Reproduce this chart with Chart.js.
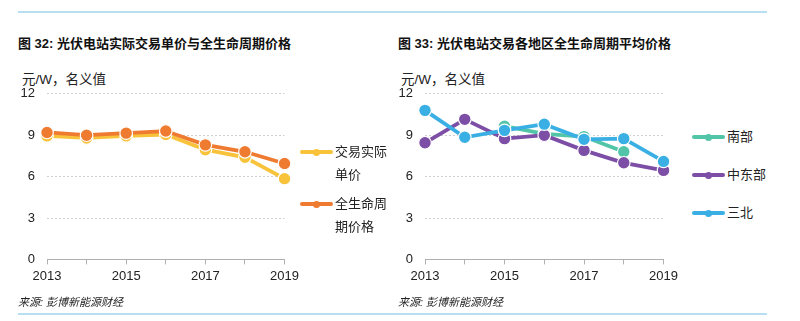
<!DOCTYPE html>
<html>
<head>
<meta charset="utf-8">
<script src="https://cdn.jsdelivr.net/npm/chart.js@4"></script>
<style>
  body { margin: 0; background: #fff; font-family: "Liberation Sans", "Noto Sans CJK SC", sans-serif; color: #222; }
  #page { position: relative; width: 800px; height: 321px; overflow: hidden; }
  .rule { position: absolute; left: 18px; width: 749px; height: 2px; background: #b6e0f2; }
  .title { position: absolute; top: 33px; font-size: 13px; font-weight: bold; font-family: "Liberation Sans", "Noto Sans CJK SC", sans-serif; color: #111; white-space: nowrap; }
  .unit { position: absolute; top: 68px; font-size: 13.5px; white-space: nowrap; }
  .source { position: absolute; top: 293px; font-size: 11px; font-style: italic; white-space: nowrap; color: #222; }
  .box { position: absolute; top: 74px; width: 293px; height: 220px; }
  .legend { position: absolute; font-size: 13px; line-height: 23px; }
  .item { position: relative; padding-left: 35px; margin-bottom: 6px; }
  .mark { position: absolute; left: 0; top: 10px; width: 33px; height: 4px; border-radius: 2px; }
  .mark i { position: absolute; left: 13px; top: -1.5px; width: 7px; height: 7px; border-radius: 50%; background: inherit; border: 0; }
</style>
</head>
<body>
<div id="page">
  <div class="rule" style="top:11px"></div>
  <div class="rule" style="top:313px"></div>

  <div class="title" style="left:18px">图 32: 光伏电站实际交易单价与全生命周期价格</div>
  <div class="title" style="left:398px">图 33: 光伏电站交易各地区全生命周期平均价格</div>
  <div class="unit" style="left:22px">元/W，名义值</div>
  <div class="unit" style="left:401px">元/W，名义值</div>

  <div class="box" style="left:10px"><canvas id="left"></canvas></div>
  <div class="box" style="left:388px; width:294px"><canvas id="right"></canvas></div>

  <div class="legend" id="legendLeft" style="left:300px; top:140px; width:90px"></div>
  <div class="legend" id="legendRight" style="left:692px; top:125px; width:90px"></div>

  <div class="source" style="left:18px">来源: 彭博新能源财经</div>
  <div class="source" style="left:398px">来源: 彭博新能源财经</div>
</div>

<script>
// data
const years = ["2013", "2014", "2015", "2016", "2017", "2018", "2019"];
const yTicks = [0, 3, 6, 9, 12];

const actualPrice = [8.95, 8.8, 8.95, 9.05, 7.95, 7.4, 5.85];
const lifecyclePrice = [9.2, 9.0, 9.15, 9.3, 8.3, 7.8, 6.95];

const southPrice = [null, null, 9.65, 9.1, 8.9, 7.8, null];
const centralEastPrice = [8.45, 10.15, 8.75, 9.0, 7.9, 7.0, 6.45];
const threeNorthPrice = [10.8, 8.85, 9.35, 9.8, 8.7, 8.75, 7.1];

const leftNames = ["交易实际单价", "全生命周期价格"];
const leftColors = ["#f8c23a", "#ee7b30"];
const rightNames = ["南部", "中东部", "三北"];
const rightColors = ["#52c5a8", "#7c4ea6", "#3aafe4"];

const FONT = "'Liberation Sans', 'Noto Sans CJK SC', sans-serif";

function makeSet(label, data, color, order) {
  return {
    label: label,
    data: data,
    borderColor: color,
    backgroundColor: color,
    borderWidth: 3.8,
    pointRadius: 6.3,
    pointHoverRadius: 6.3,
    pointBorderColor: "#fff",
    pointBorderWidth: 1.2,
    pointBackgroundColor: color,
    tension: 0,
    order: order,
    clip: false,
  };
}

function makeOptions() {
  return {
    responsive: true,
    maintainAspectRatio: false,
    animation: false,
    layout: { padding: { top: 8, right: 15, bottom: 6, left: 0 } },
    plugins: { legend: { display: false }, tooltip: { enabled: false } },
    scales: {
      x: {
        type: "category",
        offset: false,
        grid: { drawOnChartArea: false, drawTicks: true, tickLength: 5, color: "#b0b0b0" },
        border: { display: true, color: "#b0b0b0", width: 1 },
        ticks: {
          autoSkip: false,
          maxRotation: 0,
          padding: 4,
          color: "#222",
          font: { family: FONT, size: 13 },
          callback: function (val, i) { return i % 2 === 0 ? years[i] : ""; },
        },
      },
      y: {
        min: 0,
        max: 12,
        afterBuildTicks: function (scale) { scale.ticks = yTicks.map(v => ({ value: v })); },
        afterFit: function (scale) { scale.width = 37; },
        grid: { drawTicks: false, color: function (ctx) { return ctx.tick.value === 0 ? "rgba(0,0,0,0)" : "#cfcfcf"; }, lineWidth: 1 },
        border: { display: false, dash: [2, 2] },
        ticks: { padding: 12, color: "#222", font: { family: FONT, size: 13 } },
      },
    },
  };
}

new Chart(document.getElementById("left"), {
  type: "line",
  data: {
    labels: years,
    datasets: [
      makeSet(leftNames[0], actualPrice, leftColors[0], 1),
      makeSet(leftNames[1], lifecyclePrice, leftColors[1], 0),
    ],
  },
  options: makeOptions(),
});

new Chart(document.getElementById("right"), {
  type: "line",
  data: {
    labels: years,
    datasets: [
      makeSet(rightNames[0], southPrice, rightColors[0], 2),
      makeSet(rightNames[1], centralEastPrice, rightColors[1], 1),
      makeSet(rightNames[2], threeNorthPrice, rightColors[2], 0),
    ],
  },
  options: makeOptions(),
});

// html legends
function buildLegend(id, names, colors, gap) {
  const el = document.getElementById(id);
  names.forEach((name, i) => {
    const item = document.createElement("div");
    item.className = "item";
    item.style.marginBottom = gap + "px";
    const mark = document.createElement("span");
    mark.className = "mark";
    mark.style.background = colors[i];
    mark.appendChild(document.createElement("i"));
    item.appendChild(mark);
    const txt = document.createElement("div");
    txt.style.width = "54px";
    txt.textContent = name;
    item.appendChild(txt);
    el.appendChild(item);
  });
}
buildLegend("legendLeft", leftNames, leftColors, 6);
buildLegend("legendRight", rightNames, rightColors, 15);
</script>
</body>
</html>
